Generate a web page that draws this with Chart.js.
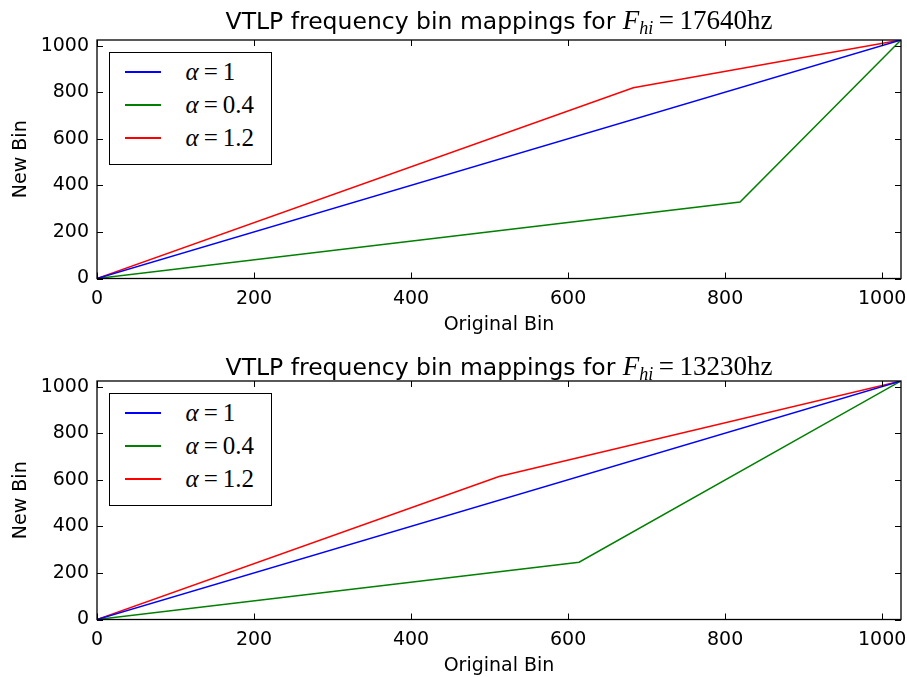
<!DOCTYPE html>
<html lang="en">
<head>
  <meta charset="UTF-8">
  <title>VTLP frequency bin mappings</title>
  <script src="https://cdn.jsdelivr.net/npm/chart.js"></script>
  <style>
    html, body { margin: 0; padding: 0; background: #fff; overflow: hidden; width: 907px; height: 677px; }
    .panel { position: absolute; left: 0; width: 907px; height: 340px; }
    .panel canvas { position: absolute; left: 0; top: 0; }
    .title { position: absolute; left: 97px; width: 804px; text-align: center; font-family: "DejaVu Sans"; font-size: 23.5px; line-height: 28px; color: #000; white-space: nowrap; }
    .title .m { font-family: "Liberation Serif"; font-size: 27px; }
    .title sub { font-size: 18px; vertical-align: -5px; line-height: 0; }
    .legend { position: absolute; background: #fff; border: 1px solid #000; width: 163px; height: 113px; box-sizing: border-box; }
    .legend .row { position: absolute; left: 0; height: 26px; width: 100%; }
    .legend .swatch { position: absolute; left: 15px; top: 12px; width: 36px; height: 1.6px; }
    .legend .lbl { position: absolute; left: 76px; top: 0; font-family: "Liberation Serif"; font-size: 25px; line-height: 26px; color: #000; white-space: nowrap; }
  </style>
</head>
<body>

<div class="panel" id="panel1" style="top:0px">
  <canvas id="chart1" width="907" height="340"></canvas>
  <div class="title" style="top:6px">VTLP frequency bin mappings for <span class="m"><i>F</i><sub><i>hi</i></sub>&#8201;=&#8201;17640hz</span></div>
  <div class="legend" id="legend1"></div>
</div>

<div class="panel" id="panel2" style="top:341px">
  <canvas id="chart2" width="907" height="340"></canvas>
  <div class="title" style="top:11px">VTLP frequency bin mappings for <span class="m"><i>F</i><sub><i>hi</i></sub>&#8201;=&#8201;13230hz</span></div>
  <div class="legend" id="legend2"></div>
</div>

<script>
// alpha values of the three warps
const alphas = ['1', '0.4', '1.2'];
const colors = ['#0000ff', '#008000', '#ff0000'];

// tick labels
const xTicks = [0, 200, 400, 600, 800, 1000];
const yTicks = [0, 200, 400, 600, 800, 1000];
const binMax = 1024;

// F_hi = 17640hz
const top_a1_x = [0, 1024];
const top_a1_y = [0, 1024];
const top_a04_x = [0, 819, 1024];
const top_a04_y = [0, 328, 1024];
const top_a12_x = [0, 683, 1024];
const top_a12_y = [0, 819, 1024];

// F_hi = 13230hz
const bot_a1_x = [0, 1024];
const bot_a1_y = [0, 1024];
const bot_a04_x = [0, 614, 1024];
const bot_a04_y = [0, 246, 1024];
const bot_a12_x = [0, 512, 1024];
const bot_a12_y = [0, 614, 1024];

function pts(xs, ys) {
  return xs.map((x, i) => ({ x: x, y: ys[i] }));
}

// matplotlib-style frame with inward ticks
const framePlugin = {
  id: 'frame',
  afterDraw(chart) {
    const { ctx, chartArea: a, scales } = chart;
    const len = 6;
    ctx.save();
    ctx.strokeStyle = '#000';
    ctx.lineWidth = 1;
    ctx.beginPath();
    xTicks.forEach(v => {
      const px = Math.round(scales.x.getPixelForValue(v)) + 0.5;
      ctx.moveTo(px, a.bottom); ctx.lineTo(px, a.bottom - len);
      ctx.moveTo(px, a.top); ctx.lineTo(px, a.top + len);
    });
    yTicks.forEach(v => {
      const py = Math.round(scales.y.getPixelForValue(v)) + 0.5;
      ctx.moveTo(a.left, py); ctx.lineTo(a.left + len, py);
      ctx.moveTo(a.right, py); ctx.lineTo(a.right - len, py);
    });
    ctx.stroke();
    ctx.lineWidth = 1.3;
    ctx.strokeRect(a.left, a.top, a.right - a.left, a.bottom - a.top);
    ctx.restore();
  }
};

function makeChart(canvasId, legendId, series) {
  const datasets = series.map((s, i) => ({
    label: 'alpha = ' + alphas[i],
    data: s,
    borderColor: colors[i],
    borderWidth: 1.5,
    pointRadius: 0,
    fill: false,
    tension: 0
  }));

  const chart = new Chart(document.getElementById(canvasId), {
    type: 'scatter',
    data: { datasets: datasets },
    options: {
      responsive: false,
      animation: false,
      showLine: true,
      layout: { padding: { top: 40, right: 6, left: 0, bottom: 0 } },
      plugins: { legend: { display: false }, tooltip: { enabled: false } },
      scales: {
        x: {
          type: 'linear', min: 0, max: binMax,
          afterBuildTicks: sc => { sc.ticks = xTicks.map(v => ({ value: v })); },
          afterFit: sc => { sc.height = 61.5; sc.paddingLeft = 0; sc.paddingRight = 0; },
          grid: { display: false, drawTicks: false },
          border: { display: false },
          ticks: { padding: 9, color: '#000', maxRotation: 0, callback: v => String(v), font: { family: 'DejaVu Sans', size: 19 } },
          title: { display: true, text: 'Original Bin', color: '#000', padding: { top: 3 }, font: { family: 'DejaVu Sans', size: 19 } }
        },
        y: {
          type: 'linear', min: 0, max: binMax,
          afterBuildTicks: sc => { sc.ticks = yTicks.map(v => ({ value: v })); },
          afterFit: sc => { sc.width = 97; sc.paddingTop = 0; sc.paddingBottom = 0; },
          grid: { display: false, drawTicks: false },
          border: { display: false },
          ticks: { padding: 8, color: '#000', callback: v => String(v), font: { family: 'DejaVu Sans', size: 19 } },
          title: { display: true, text: 'New Bin', color: '#000', padding: { top: 10, bottom: 4 }, font: { family: 'DejaVu Sans', size: 19 } }
        }
      }
    },
    plugins: [framePlugin]
  });

  // legend built from the datasets
  const lg = document.getElementById(legendId);
  const a = chart.chartArea;
  lg.style.left = (a.left + 11.5) + 'px';
  lg.style.top = (a.top + 12) + 'px';
  chart.data.datasets.forEach((d, i) => {
    const row = document.createElement('div');
    row.className = 'row';
    row.style.top = (6 + i * 33) + 'px';
    row.innerHTML = '<div class="swatch" style="background:' + d.borderColor + '"></div>' +
      '<div class="lbl"><i>&alpha;</i>&#8201;=&#8201;' + alphas[i] + '</div>';
    lg.appendChild(row);
  });
  return chart;
}

makeChart('chart1', 'legend1', [
  pts(top_a1_x, top_a1_y),
  pts(top_a04_x, top_a04_y),
  pts(top_a12_x, top_a12_y)
]);

makeChart('chart2', 'legend2', [
  pts(bot_a1_x, bot_a1_y),
  pts(bot_a04_x, bot_a04_y),
  pts(bot_a12_x, bot_a12_y)
]);
</script>

</body>
</html>
